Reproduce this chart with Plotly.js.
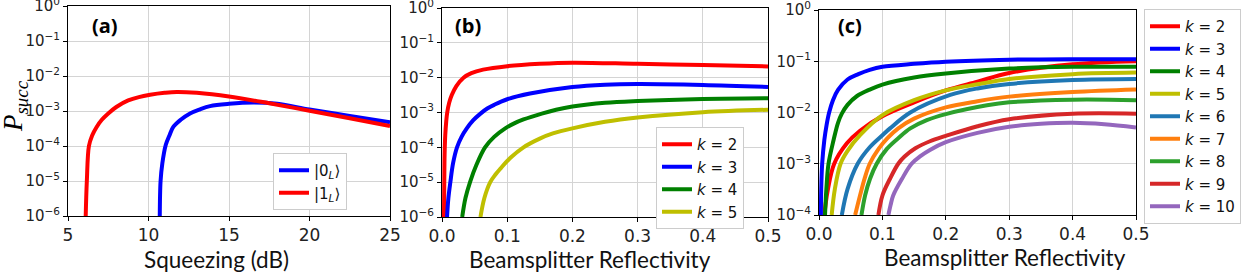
<!DOCTYPE html>
<html>
<head>
<meta charset="utf-8">
<script src="https://cdn.plot.ly/plotly-3.0.1.min.js"></script>
<style>html,body{margin:0;padding:0;background:#fff;}#chart{width:1252px;height:275px;}</style>
</head>
<body>
<div id="chart"></div>
<script>
// ---------- Panel (a): P_succ vs squeezing (dB) ----------
const sqzOne = [6.1, 6.17, 6.3, 6.5, 6.78, 7.1, 7.5, 8.0, 8.74, 9.4, 10.1, 11.0, 11.75, 13, 15, 17.5, 20, 22.5, 25];
const pOne   = [1e-6, 1e-5, 1e-4, 2.0e-4, 3.5e-4, 5.6e-4, 8.5e-4, 1.3e-3, 2.0e-3, 2.5e-3, 2.9e-3, 3.3e-3, 3.5e-3, 3.3e-3, 2.6e-3, 1.66e-3, 1.02e-3, 6.2e-4, 3.7e-4];
const sqzZero = [10.7, 10.75, 10.86, 11.07, 11.3, 11.54, 12.0, 12.58, 13.2, 13.82, 15, 16.5, 18, 20, 22.5, 25];
const pZero   = [1e-6, 1e-5, 3.2e-5, 1.07e-4, 2.0e-4, 3.5e-4, 5.6e-4, 8.5e-4, 1.12e-3, 1.38e-3, 1.6e-3, 1.74e-3, 1.6e-3, 1.1e-3, 7.2e-4, 4.8e-4];
const namesA = ["|0<sub><i>L</i></sub>⟩", "|1<sub><i>L</i></sub>⟩"];

// ---------- Panel (b): P_succ vs beamsplitter reflectivity ----------
const rB2 = [0.003, 0.0035, 0.004, 0.005, 0.0065, 0.008, 0.011, 0.015, 0.022, 0.033, 0.045, 0.063, 0.1, 0.15, 0.2, 0.3, 0.4, 0.5];
const pB2 = [1e-6, 1e-5, 6.3e-5, 2.24e-4, 5.6e-4, 1e-3, 1.9e-3, 3.16e-3, 5.75e-3, 1e-2, 1.35e-2, 1.7e-2, 2.14e-2, 2.5e-2, 2.7e-2, 2.5e-2, 2.3e-2, 2.1e-2];
const rB3 = [0.0077, 0.0098, 0.0128, 0.017, 0.023, 0.03, 0.038, 0.048, 0.059, 0.07, 0.08, 0.1, 0.135, 0.2, 0.25, 0.3, 0.4, 0.5];
const pB3 = [1e-6, 3.5e-6, 1e-5, 3.5e-5, 1e-4, 2.0e-4, 3.5e-4, 6.0e-4, 9.3e-4, 1.32e-3, 1.66e-3, 2.4e-3, 3.5e-3, 5.4e-3, 6.3e-3, 6.6e-3, 6.2e-3, 5.4e-3];
const rB4 = [0.031, 0.036, 0.043, 0.053, 0.066, 0.08, 0.097, 0.11, 0.125, 0.153, 0.175, 0.2, 0.25, 0.3, 0.4, 0.5];
const pB4 = [1e-6, 3.5e-6, 1e-5, 3.2e-5, 1e-4, 2.0e-4, 3.5e-4, 4.8e-4, 6.3e-4, 9.3e-4, 1.2e-3, 1.48e-3, 1.9e-3, 2.14e-3, 2.45e-3, 2.57e-3];
const rB5 = [0.059, 0.065, 0.074, 0.082, 0.09, 0.105, 0.125, 0.15, 0.17, 0.2, 0.25, 0.3, 0.4, 0.5];
const pB5 = [1e-6, 3.5e-6, 1e-5, 1.66e-5, 2.5e-5, 5e-5, 1e-4, 1.78e-4, 2.5e-4, 3.5e-4, 5.4e-4, 7.2e-4, 1.02e-3, 1.2e-3];

// ---------- Panel (c): P_succ vs beamsplitter reflectivity ----------
const rC2 = [0.0084, 0.0137, 0.024, 0.044, 0.0647, 0.1, 0.15, 0.2, 0.25, 0.3, 0.4, 0.5];
const pC2 = [1e-4, 3.0e-4, 1e-3, 2.5e-3, 4.4e-3, 8.5e-3, 1.58e-2, 2.7e-2, 4.0e-2, 5.9e-2, 8.7e-2, 1.0e-1];
const rC3 = [0.003, 0.0035, 0.005, 0.0084, 0.012, 0.016, 0.022, 0.03, 0.045, 0.062, 0.08, 0.1, 0.15, 0.2, 0.3, 0.4, 0.5];
const pC3 = [1e-4, 3.2e-4, 1e-3, 2.9e-3, 5.75e-3, 1e-2, 1.74e-2, 2.75e-2, 4.4e-2, 5.6e-2, 6.8e-2, 7.8e-2, 8.9e-2, 9.8e-2, 1.07e-1, 1.1e-1, 1.1e-1];
const rC4 = [0.0095, 0.0116, 0.015, 0.023, 0.03, 0.036, 0.045, 0.06, 0.08, 0.1, 0.15, 0.2, 0.3, 0.4, 0.5];
const pC4 = [1e-4, 3.2e-4, 1e-3, 2.9e-3, 6.3e-3, 9.5e-3, 1.41e-2, 2.1e-2, 2.8e-2, 3.5e-2, 4.8e-2, 5.75e-2, 7.2e-2, 7.8e-2, 7.8e-2];
const rC5 = [0.02, 0.025, 0.034, 0.045, 0.0647, 0.1, 0.15, 0.2, 0.25, 0.3, 0.4, 0.5];
const pC5 = [1e-4, 3.2e-4, 1e-3, 1.78e-3, 3.6e-3, 8.9e-3, 1.74e-2, 2.7e-2, 3.55e-2, 4.5e-2, 5.6e-2, 6.0e-2];
const rC6 = [0.036, 0.045, 0.061, 0.08, 0.1, 0.112, 0.144, 0.207, 0.25, 0.3, 0.4, 0.5];
const pC6 = [1e-4, 3.2e-4, 1e-3, 2.1e-3, 3.6e-3, 4.9e-3, 1e-2, 2.2e-2, 2.95e-2, 3.6e-2, 4.3e-2, 4.5e-2];
const rC7 = [0.057, 0.0647, 0.072, 0.08, 0.094, 0.108, 0.125, 0.15, 0.2, 0.25, 0.3, 0.4, 0.5];
const pC7 = [1e-4, 2.4e-4, 5.2e-4, 1e-3, 1.95e-3, 3.16e-3, 4.9e-3, 7.6e-3, 1.26e-2, 1.66e-2, 2.04e-2, 2.5e-2, 2.8e-2];
const rC8 = [0.067, 0.0727, 0.0805, 0.091, 0.107, 0.125, 0.144, 0.17, 0.2, 0.265, 0.3, 0.4, 0.5];
const pC8 = [1e-4, 2.4e-4, 5.1e-4, 1e-3, 1.95e-3, 3.16e-3, 4.9e-3, 7.1e-3, 9.3e-3, 1.38e-2, 1.58e-2, 1.78e-2, 1.74e-2];
const rC9 = [0.0937, 0.1, 0.112, 0.125, 0.135, 0.152, 0.175, 0.2, 0.25, 0.3, 0.4, 0.5];
const pC9 = [1e-4, 2.4e-4, 5.1e-4, 1e-3, 1.38e-3, 2.0e-3, 2.75e-3, 3.5e-3, 5.4e-3, 7.4e-3, 9.5e-3, 9.5e-3];
const rC10 = [0.1095, 0.113, 0.117, 0.131, 0.146, 0.16, 0.175, 0.2, 0.25, 0.3, 0.35, 0.4, 0.45, 0.5];
const pC10 = [1e-4, 1.58e-4, 2.4e-4, 5.1e-4, 1e-3, 1.41e-3, 1.86e-3, 2.63e-3, 4.0e-3, 5.25e-3, 6.0e-3, 6.3e-3, 5.9e-3, 5.1e-3];

const kLabels = [2, 3, 4, 5, 6, 7, 8, 9, 10];
const kColors = ["#ff0000", "#0000ff", "#008000", "#bfbf00", "#1f77b4", "#ff7f0e", "#2ca02c", "#d62728", "#9467bd"];

// tick labels
const yTickVals = [1e-6, 1e-5, 1e-4, 1e-3, 1e-2, 1e-1, 1];
const yTickText = ["10<sup>−6</sup>", "10<sup>−5</sup>", "10<sup>−4</sup>", "10<sup>−3</sup>", "10<sup>−2</sup>", "10<sup>−1</sup>", "10<sup>0</sup>"];
const xTickA = [5, 10, 15, 20, 25];
const xTickR = [0, 0.1, 0.2, 0.3, 0.4, 0.5];
const xTickRText = ["0.0", "0.1", "0.2", "0.3", "0.4", "0.5"];

const W = 1252, H = 275;
const LW = 4;
const kName = k => "<i>k</i> = " + k;
const lineStyle = c => ({color: c, width: LW, shape: "spline", smoothing: 1});

const traces = [];
traces.push({x: sqzZero, y: pZero, name: namesA[0], xaxis: "x", yaxis: "y", legend: "legend", mode: "lines", line: lineStyle("#0000ff")});
traces.push({x: sqzOne, y: pOne, name: namesA[1], xaxis: "x", yaxis: "y", legend: "legend", mode: "lines", line: lineStyle("#ff0000")});

const bX = [rB2, rB3, rB4, rB5], bY = [pB2, pB3, pB4, pB5];
for (let i = 0; i < 4; i++) {
  traces.push({x: bX[i], y: bY[i], name: kName(kLabels[i]), xaxis: "x2", yaxis: "y2", legend: "legend2", mode: "lines", line: lineStyle(kColors[i])});
}
const cX = [rC2, rC3, rC4, rC5, rC6, rC7, rC8, rC9, rC10], cY = [pC2, pC3, pC4, pC5, pC6, pC7, pC8, pC9, pC10];
for (let i = 0; i < 9; i++) {
  traces.push({x: cX[i], y: cY[i], name: kName(kLabels[i]), xaxis: "x3", yaxis: "y3", legend: "legend3", mode: "lines", line: lineStyle(kColors[i])});
}

const tickFont = {family: "DejaVu Sans", size: 15, color: "#222"};
const xTickFont = {family: "DejaVu Sans", size: 17, color: "#222"};
const axisCommon = {showline: true, mirror: true, linecolor: "#000", linewidth: 1, ticks: "outside", ticklen: 4, tickcolor: "#000", showgrid: true, gridcolor: "#d4d4d4", gridwidth: 1, zeroline: false, fixedrange: true, ticklabeloverflow: "allow"};

function xax(domPx, range, vals, text) {
  return Object.assign({}, axisCommon, {domain: [domPx[0] / W, domPx[1] / W], range: range, tickmode: "array", tickvals: vals, ticktext: text, tickfont: xTickFont});
}
function yax(domPx, range, anchor) {
  return Object.assign({}, axisCommon, {type: "log", domain: [1 - domPx[1] / H, 1 - domPx[0] / H], range: range, tickmode: "array", tickvals: yTickVals, ticktext: yTickText, tickfont: tickFont, anchor: anchor});
}

const legendCommon = {bgcolor: "#ffffff", bordercolor: "#cccccc", borderwidth: 1, font: {family: "DejaVu Sans", size: 15, color: "#111"}, xanchor: "left", yanchor: "top", xref: "paper", yref: "paper", tracegroupgap: 0};

function ann(text, px, py, font, extra) {
  return Object.assign({text: text, x: px / W, y: 1 - py / H, xref: "paper", yref: "paper", xanchor: "center", yanchor: "middle", showarrow: false, font: font}, extra || {});
}
const titleFont = {family: "Lato", size: 22.5, color: "#111"};
const panelFont = {family: "Open Sans", size: 20, color: "#000", weight: "bold"};

const layout = {
  width: W, height: H,
  margin: {l: 0, r: 0, t: 0, b: 0},
  paper_bgcolor: "#fff", plot_bgcolor: "#fff",
  xaxis: xax([68, 390], [5, 25], xTickA, xTickA.map(String)),
  yaxis: yax([6, 216], [-6, 0], "x"),
  xaxis2: Object.assign(xax([442, 768], [0, 0.5], xTickR, xTickRText), {anchor: "y2"}),
  yaxis2: yax([8, 217], [-6, 0], "x2"),
  xaxis3: Object.assign(xax([819, 1136], [0, 0.5], xTickR, xTickRText), {anchor: "y3"}),
  yaxis3: yax([10, 215], [-4, 0], "x3"),
  legend: Object.assign({}, legendCommon, {x: 273 / W, y: 1 - 153 / H}),
  legend2: Object.assign({}, legendCommon, {x: 656 / W, y: 1 - 127 / H}),
  legend3: Object.assign({}, legendCommon, {x: 1144 / W, y: 1 - 9 / H}),
  annotations: [
    ann("<b>(a)</b>", 105, 25, panelFont),
    ann("<b>(b)</b>", 468, 25, panelFont),
    ann("<b>(c)</b>", 850, 25, panelFont),
    ann("Squeezing (dB)", 216, 259, titleFont),
    ann("Beamsplitter Reflectivity", 590, 259, titleFont),
    ann("Beamsplitter Reflectivity", 1005, 257, titleFont),
    ann("<i>P</i><sub><i>succ</i></sub>", 15, 106, {family: "Liberation Serif", size: 27, color: "#000"}, {textangle: -90})
  ]
};

Plotly.newPlot("chart", traces, layout, {displayModeBar: false, staticPlot: true});
</script>
</body>
</html>
